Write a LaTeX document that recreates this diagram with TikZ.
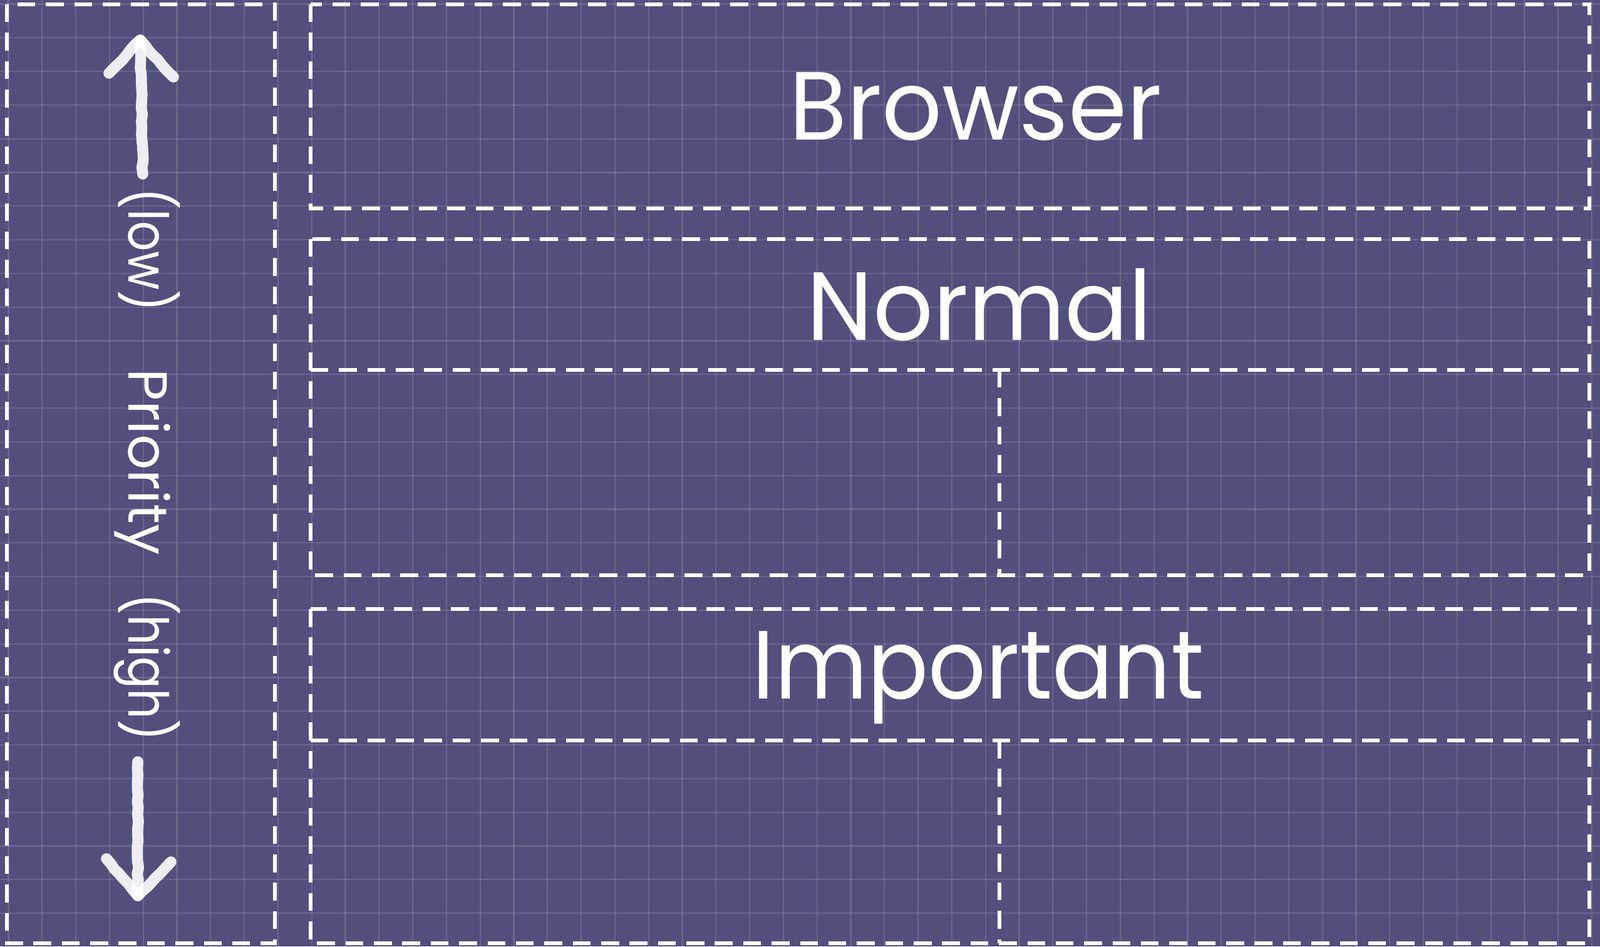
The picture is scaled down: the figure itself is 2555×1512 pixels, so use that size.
\documentclass[tikz,border=0pt]{standalone}
\usepackage{fontspec}
\setmainfont{Poppins}
\usetikzlibrary{decorations.pathmorphing}
\definecolor{board}{RGB}{82,79,125}
\newcommand{\narrowtext}[2]{\scalebox{#1}[1]{#2}}
\tikzset{
  gridline/.style={white, opacity=0.13, line width=0.6pt},
  zone/.style={white, line width=1.6pt, dash pattern=on 8.1pt off 4.8pt},
  title/.style={text=white, font=\fontsize{44}{48}\selectfont, anchor=base, inner sep=0pt},
  side/.style={text=white, font=\fontsize{25}{30}\selectfont, anchor=base, rotate=-90, inner sep=0pt},
  chalk/.style={white, opacity=0.9, line width=5pt, line cap=round, line join=round,
    decorate, decoration={random steps, segment length=3pt, amplitude=0.35pt}},
}
\begin{document}
\begin{tikzpicture}[x=0.01cm, y=-0.01cm]
  \fill[board] (0,0) rectangle (2555,1512);
  \useasboundingbox (0,0) rectangle (2555,1512);
  % grid
  \foreach \i in {0,...,47}
    \draw[gridline] ({13.5+53.8*\i},0) -- ({13.5+53.8*\i},1512);
  \foreach \j in {0,...,27}
    \draw[gridline] (0,{6.5+53.8*\j}) -- (2555,{6.5+53.8*\j});
  % priority column
  \draw[zone] (11,7) rectangle (439,1507);
  % layers
  \draw[zone] (496,7) rectangle (2538,333);
  \draw[zone] (496,382) rectangle (2538,919);
  \draw[zone] (496,591) -- (2538,591);
  \draw[zone] (1596,591) -- (1596,919);
  \draw[zone] (496,973) rectangle (2538,1507);
  \draw[zone] (496,1183) -- (2538,1183);
  \draw[zone] (1596,1183) -- (1596,1507);
  % labels
  \node[title] (browser) at (1558,223) {\narrowtext{0.97}{Browser}};
  \node[title] (normal) at (1564,543) {\narrowtext{0.97}{Normal}};
  \node[title] (important) at (1562,1116) {\narrowtext{0.93}{Important}};
  \node[side] (low) at (205,399) {\narrowtext{0.86}{(low)}};
  \node[side] (prio) at (205,738) {\narrowtext{1.0}{Priority}};
  \node[side] (high) at (205,1066) {\narrowtext{0.86}{(high)}};
  % arrows
  \coordinate (uptop) at (224,64);
  \coordinate (upfoot) at (228,278);
  \coordinate (upleft) at (174,117);
  \coordinate (upright) at (277,123);
  \coordinate (downtop) at (220,1217);
  \coordinate (downtip) at (220,1431);
  \coordinate (downleft) at (170,1372);
  \coordinate (downright) at (273,1377);
  \draw[chalk] (upfoot) -- (uptop);
  \draw[chalk] (upleft) -- (uptop) -- (upright);
  \draw[chalk] (downtop) -- (downtip);
  \draw[chalk] (downleft) -- (downtip) -- (downright);
\end{tikzpicture}
\end{document}
